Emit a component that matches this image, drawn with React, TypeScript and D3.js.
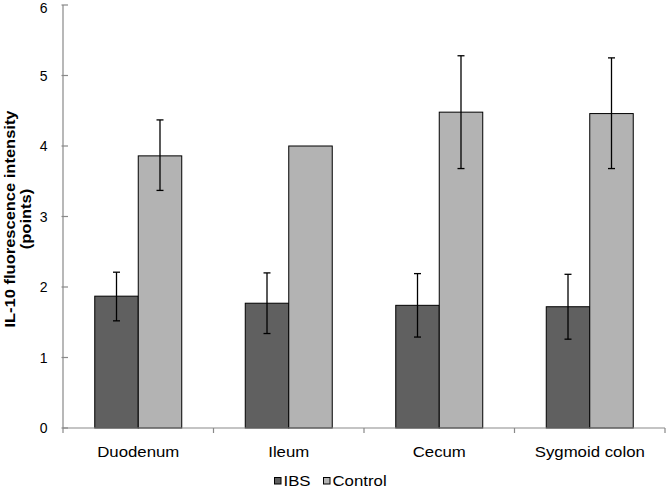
import React from "react";
import * as d3 from "d3";

const categories = ["Duodenum", "Ileum", "Cecum", "Sygmoid colon"];
const series = ["IBS", "Control"];
const ibsValues = [1.87, 1.77, 1.74, 1.72];
const ibsLow = [1.52, 1.34, 1.29, 1.26];
const ibsHigh = [2.21, 2.2, 2.19, 2.18];
const controlValues = [3.86, 4.0, 4.48, 4.46];
const controlLow = [3.37, 4.0, 3.68, 3.68];
const controlHigh = [4.37, 4.0, 5.28, 5.25];
const yTicks = [0, 1, 2, 3, 4, 5, 6];
const colors = ["#606060", "#b3b3b3"];

const W = 666;
const H = 488;
const left = 63;
const right = 665;
const top = 5;
const bottom = 428;

export default function App() {
  const x = d3
    .scaleBand<string>()
    .domain(categories)
    .range([left, right])
    .paddingInner(0.422)
    .paddingOuter(0.211);
  const xs = d3.scaleBand<string>().domain(series).range([0, x.bandwidth()]);
  const y = d3.scaleLinear().domain([0, 6]).range([bottom, top]);
  const step = (right - left) / categories.length;
  const data = [
    { vals: ibsValues, lo: ibsLow, hi: ibsHigh },
    { vals: controlValues, lo: controlLow, hi: controlHigh },
  ];
  const font = "'Liberation Sans', Arial, sans-serif";
  return (
    <svg width={W} height={H} style={{ position: "absolute", left: 0, top: 0 }}>
      <rect width={W} height={H} fill="#fff" />
      {/* bars */}
      {data.map((s, si) =>
        categories.map((c, ci) => {
          const bx = (x(c) as number) + (xs(series[si]) as number);
          const v = s.vals[ci];
          return (
            <rect
              key={`b${si}-${ci}`}
              x={bx}
              y={y(v)}
              width={xs.bandwidth()}
              height={y(0) - y(v)}
              fill={colors[si]}
              stroke="#000"
              strokeWidth={1}
            />
          );
        })
      )}
      {/* error bars */}
      {data.map((s, si) =>
        categories.map((c, ci) => {
          if (s.hi[ci] === s.lo[ci]) return null;
          const cx = (x(c) as number) + (xs(series[si]) as number) + xs.bandwidth() / 2;
          return (
            <g key={`e${si}-${ci}`} stroke="#000" strokeWidth={1.3}>
              <line x1={cx} x2={cx} y1={y(s.hi[ci])} y2={y(s.lo[ci])} />
              <line x1={cx - 3.5} x2={cx + 3.5} y1={y(s.hi[ci])} y2={y(s.hi[ci])} />
              <line x1={cx - 3.5} x2={cx + 3.5} y1={y(s.lo[ci])} y2={y(s.lo[ci])} />
            </g>
          );
        })
      )}
      {/* axes */}
      <g stroke="#898989" strokeWidth={1.2}>
        <line x1={left} x2={left} y1={top} y2={bottom} />
        <line x1={left} x2={right} y1={bottom} y2={bottom} />
        {yTicks.map((t) => (
          <line key={`yt${t}`} x1={left - 1.5} x2={left + 5} y1={y(t)} y2={y(t)} />
        ))}
        {d3.range(categories.length + 1).map((i) => (
          <line key={`xt${i}`} x1={left + step * i} x2={left + step * i} y1={bottom} y2={bottom + 5} />
        ))}
      </g>
      {yTicks.map((t) => (
        <text
          key={`yl${t}`}
          x={47.5}
          y={Math.max(y(t) + 5, 13)}
          textAnchor="end"
          fontFamily={font}
          fontSize={14}
          fill="#000"
        >
          {t}
        </text>
      ))}
      {categories.map((c) => (
        <text
          key={`xl${c}`}
          transform={`translate(${(x(c) as number) + x.bandwidth() / 2},${457}) scale(1.2,1)`}
          textAnchor="middle"
          fontFamily={font}
          fontSize={14}
          fill="#000"
        >
          {c}
        </text>
      ))}
      {/* y title */}
      <g transform="translate(15,219) rotate(-90)">
        <text
          transform="scale(1.1,1)"
          textAnchor="middle"
          fontFamily={font}
          fontSize={15}
          fontWeight="bold"
          fill="#000"
        >
          IL-10 fluorescence intensity
        </text>
        <text
          transform="translate(0,16) scale(1.1,1)"
          textAnchor="middle"
          fontFamily={font}
          fontSize={15}
          fontWeight="bold"
          fill="#000"
        >
          (points)
        </text>
      </g>
      {/* legend */}
      {series.map((s, i) => {
        const lx = i === 0 ? 274.5 : 323.5;
        return (
          <g key={`lg${s}`}>
            <rect x={lx} y={477.5} width={6.5} height={6.5} fill={colors[i]} stroke="#000" strokeWidth={1} />
            <text
              transform={`translate(${lx + 9},${486}) scale(1.2,1)`}
              fontFamily={font}
              fontSize={14}
              fill="#000"
            >
              {s}
            </text>
          </g>
        );
      })}
    </svg>
  );
}
